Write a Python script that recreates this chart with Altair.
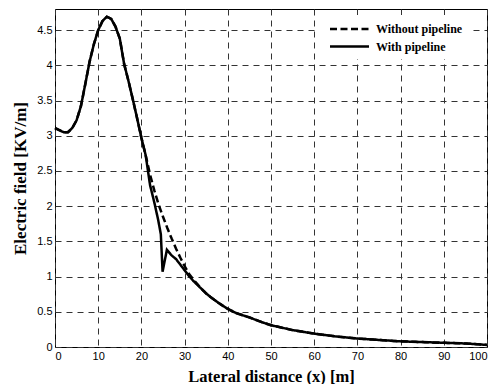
import altair as alt
import pandas as pd

# Without pipeline
x_without = [0, 1, 2, 3, 4, 5, 6, 7, 8, 9, 10, 11, 12, 13, 14, 15, 16, 17, 18, 19, 20,
             21, 22, 23, 24, 25, 26, 27, 28, 29, 30, 31, 32, 33, 34, 35, 36, 38, 40,
             42, 45, 48, 50, 55, 60, 65, 70, 75, 80, 85, 90, 95, 100]
y_without = [3.11, 3.08, 3.05, 3.05, 3.11, 3.22, 3.42, 3.73, 4.05, 4.3, 4.5, 4.63, 4.69,
             4.66, 4.55, 4.38, 4.02, 3.78, 3.52, 3.25, 2.97,
             2.72, 2.45, 2.22, 2.02, 1.85, 1.69, 1.54, 1.4, 1.27, 1.15, 1.04, 0.96, 0.89,
             0.82, 0.76, 0.71, 0.62, 0.54,
             0.48, 0.42, 0.35, 0.31, 0.24, 0.19, 0.15, 0.12, 0.1, 0.08, 0.07, 0.06, 0.05, 0.03]

# With pipeline
x_with = [0, 1, 2, 3, 4, 5, 6, 7, 8, 9, 10, 11, 12, 13, 14, 15, 16, 17, 18, 19, 20,
          21, 22, 23, 23.9, 24.5, 24.9, 25.9, 27, 28, 29, 30, 31, 32, 33, 34, 35, 36, 38, 40,
          42, 45, 48, 50, 55, 60, 65, 70, 75, 80, 85, 90, 95, 100]
y_with = [3.11, 3.08, 3.05, 3.05, 3.11, 3.22, 3.42, 3.73, 4.05, 4.3, 4.5, 4.63, 4.69,
          4.66, 4.55, 4.38, 4.02, 3.78, 3.52, 3.25, 2.97,
          2.72, 2.3, 2.05, 1.8, 1.6, 1.07, 1.38, 1.3, 1.25, 1.17, 1.09, 1.01, 0.94, 0.88,
          0.82, 0.76, 0.71, 0.62, 0.54,
          0.48, 0.42, 0.35, 0.31, 0.24, 0.19, 0.15, 0.12, 0.1, 0.08, 0.07, 0.06, 0.05, 0.03]

series_names = ["Without pipeline", "With pipeline"]
x_ticks = [0, 10, 20, 30, 40, 50, 60, 70, 80, 90, 100]
y_ticks = [0, 0.5, 1, 1.5, 2, 2.5, 3, 3.5, 4, 4.5]

rows = []
for i, (xv, yv) in enumerate(zip(x_without, y_without)):
    rows.append({"x": xv, "y": yv, "series": series_names[0], "order": i})
for i, (xv, yv) in enumerate(zip(x_with, y_with)):
    rows.append({"x": xv, "y": yv, "series": series_names[1], "order": i})
df = pd.DataFrame(rows)

legend = alt.Legend(
    title=None, orient="none", legendX=262, legendY=6,
    fillColor="white", padding=6, symbolType="M-3,0H3", symbolSize=169,
    symbolStrokeWidth=2.5, symbolStrokeColor="black", symbolOffset=18.5,
    labelFont="Liberation Serif", labelFontWeight="bold", labelFontSize=12,
    labelColor="black", rowPadding=3.5, labelOffset=18.5,
)

chart = alt.Chart(df).mark_line(strokeWidth=2.5, color="black").encode(
    x=alt.X("x:Q", scale=alt.Scale(domain=[0, 100], nice=False),
            axis=alt.Axis(values=x_ticks, title="Lateral distance (x) [m]",
                          titlePadding=7, titleFontSize=16.5)),
    y=alt.Y("y:Q", scale=alt.Scale(domain=[0, 4.8], nice=False),
            axis=alt.Axis(values=y_ticks, format="~g", title="Electric field [KV/m]",
                          titlePadding=7, titleFontSize=17)),
    strokeDash=alt.StrokeDash("series:N", scale=alt.Scale(domain=series_names, range=[[7, 3.5], [1, 0]]),
                              legend=legend),
    detail="series:N",
    order="order:Q",
).properties(
    width=432, height=338,
    autosize=alt.AutoSizeParams(type="none"),
    padding={"left": 47, "top": 1, "right": 1, "bottom": 37},
).configure_view(
    stroke="black", strokeWidth=1
).configure_axis(
    grid=True, gridColor="#333333", gridDash=[6, 5], gridWidth=1,
    domain=False, ticks=False,
    labelFont="Liberation Sans", labelFontSize=11, labelColor="black", labelPadding=3,
    titleFont="Liberation Serif", titleFontWeight="bold", titleColor="black",
)

chart.save("out.html", embed_options={"renderer": "svg", "actions": False})
